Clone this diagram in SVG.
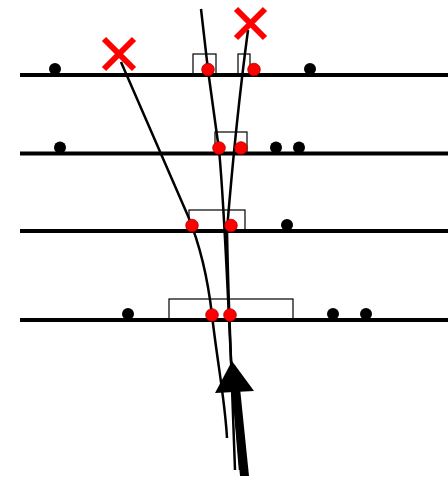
<svg xmlns="http://www.w3.org/2000/svg" width="448" height="480" viewBox="0 0 448 480">
<style>
.rail{stroke:#000;stroke-width:4;fill:none}
.box{fill:none;stroke:#000;stroke-width:1.2}
.bd{fill:#000}
.rd{fill:#f00;stroke:#a00;stroke-width:0.8}
.x{stroke:#f00;stroke-width:6;fill:none}
.path{stroke:#000;stroke-width:2.5;fill:none}
</style>
<rect width="448" height="480" fill="#fff"/>
<g id="rows">
<g id="row1">
<line class="rail" x1="20" y1="75" x2="448" y2="75"/>
<rect class="box" x="193" y="54" width="23" height="21"/>
<rect class="box" x="238" y="54" width="12" height="21"/>
<circle class="bd" cx="55" cy="69" r="6"/>
<circle class="bd" cx="310" cy="69" r="6"/>
</g>
<g id="row2">
<line class="rail" x1="20" y1="153.5" x2="448" y2="153.5"/>
<rect class="box" x="215" y="132" width="32" height="21"/>
<circle class="bd" cx="60" cy="147.5" r="6"/>
<circle class="bd" cx="276" cy="147.5" r="6"/>
<circle class="bd" cx="299" cy="147.5" r="6"/>
</g>
<g id="row3">
<line class="rail" x1="20" y1="231" x2="448" y2="231"/>
<rect class="box" x="189" y="210" width="56" height="21"/>
<circle class="bd" cx="287" cy="225" r="6"/>
</g>
<g id="row4">
<line class="rail" x1="20" y1="320" x2="448" y2="320"/>
<rect class="box" x="169" y="299" width="124" height="21"/>
<circle class="bd" cx="128" cy="314" r="6"/>
<circle class="bd" cx="333" cy="314" r="6"/>
<circle class="bd" cx="366" cy="314" r="6"/>
</g>
</g>
<g id="connectors">
<path class="path" d="M121,62 L188,216 C200,245 208,280 212,315 C217,360 225,400 227,438"/>
<path class="path" d="M201,9 L208,70 L219,150 C224,200 228,300 231,360 L235,470"/>
<path class="path" d="M248,30 Q236,120 227,230 C228,290 230,330 231,360 L240,470"/>
<polygon fill="#000" points="232,388 240,388 249,476 240,476"/>
<polygon fill="#000" points="232,361 254,391 215,393"/>
</g>
<g id="marks">
<circle class="rd" cx="208" cy="69.5" r="6.3"/>
<circle class="rd" cx="254" cy="69.5" r="6.3"/>
<circle class="rd" cx="219" cy="148" r="6.3"/>
<circle class="rd" cx="241" cy="148" r="6.3"/>
<circle class="rd" cx="192" cy="225.5" r="6.3"/>
<circle class="rd" cx="231" cy="225.5" r="6.3"/>
<circle class="rd" cx="212" cy="315" r="6.3"/>
<circle class="rd" cx="230" cy="315" r="6.3"/>
<path class="x" d="M104,39 L134,69 M134,39 L104,69"/>
<path class="x" d="M236,9 L265,38 M265,9 L236,38"/>
</g>
</svg>
